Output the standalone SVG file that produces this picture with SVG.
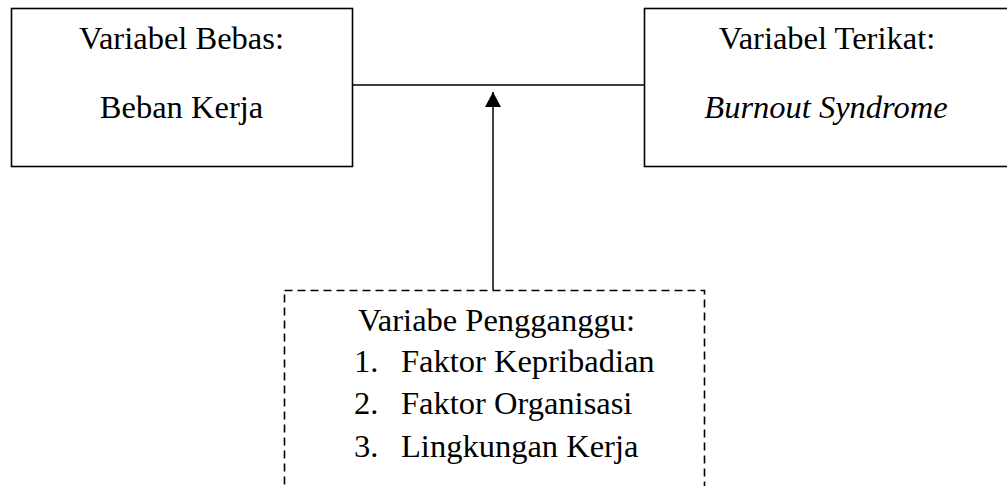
<svg xmlns="http://www.w3.org/2000/svg" width="1007" height="486" viewBox="0 0 1007 486">
<style>
.box{fill:#fff;stroke:#000;stroke-width:1.6}
.dash{fill:#fff;stroke:#000;stroke-width:1.6;stroke-dasharray:8 5}
.t{font-family:"Liberation Serif","Times New Roman",serif;font-size:32.5px;fill:#000}
.c{text-anchor:middle}
.i{font-style:italic}
.conn{stroke:#000;stroke-width:1.5;fill:none}
</style>
<defs>
<marker id="ah" markerWidth="15" markerHeight="16" refX="15" refY="8" orient="auto" markerUnits="userSpaceOnUse" viewBox="0 0 15 16">
<path d="M0,0 L15,8 L0,16 Z" fill="#000"/>
</marker>
</defs>
<g id="connectors">
<line class="conn" x1="352" y1="85" x2="644" y2="85"/>
<line class="conn" x1="493" y1="290" x2="493" y2="92" marker-end="url(#ah)"/>
</g>
<g id="bebas">
<rect class="box" x="11.5" y="8.5" width="341" height="158"/>
<text class="t c" x="181.5" y="49">Variabel Bebas:</text>
<text class="t c" x="181.5" y="118">Beban Kerja</text>
</g>
<g id="terikat">
<rect class="box" x="644.5" y="8.5" width="370" height="158"/>
<text class="t c" x="827" y="49">Variabel Terikat:</text>
<text class="t c i" x="826" y="118">Burnout Syndrome</text>
</g>
<g id="pengganggu">
<rect class="dash" x="284.5" y="290.5" width="420" height="210"/>
<text class="t" x="358" y="331">Variabe Pengganggu:</text>
<text class="t" x="354" y="372">1.</text>
<text class="t" x="401" y="372">Faktor Kepribadian</text>
<text class="t" x="354" y="414">2.</text>
<text class="t" x="401" y="414">Faktor Organisasi</text>
<text class="t" x="354" y="457">3.</text>
<text class="t" x="401" y="457">Lingkungan Kerja</text>
</g>
</svg>
